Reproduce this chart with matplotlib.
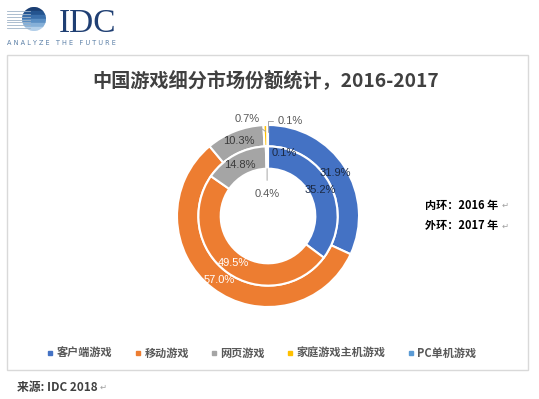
import matplotlib.pyplot as plt
import numpy as np
from matplotlib.patches import Rectangle, Circle
from matplotlib.lines import Line2D

plt.rcParams['font.family'] = ['Noto Sans CJK SC', 'DejaVu Sans']

categories = ['客户端游戏', '移动游戏', '网页游戏', '家庭游戏主机游戏', 'PC单机游戏']
share_2016 = [35.2, 49.5, 14.8, 0.4, 0.1]   # inner ring
share_2017 = [31.9, 57.0, 10.3, 0.7, 0.1]   # outer ring
colors = ['#4472C4', '#ED7D31', '#A5A5A5', '#FFC000', '#5B9BD5']
label_colors = ['#1c2a44', 'white', '#3a3a3a', '#595959', '#1c2a44']

W, H = 539, 399
fig = plt.figure(figsize=(W / 100, H / 100), dpi=100)
fig.patch.set_facecolor('white')

# background axes in pixel coords (y down)
bg = fig.add_axes([0, 0, 1, 1])
bg.set_xlim(0, W)
bg.set_ylim(H, 0)
bg.axis('off')

# --- IDC logo ---
gx, gy, gr = 34, 19, 12
bands = ['#1b3f73', '#24548f', '#3a6fab', '#5b8fc4', '#86b0d8', '#b3cfe9']
circ = Circle((gx, gy), gr, transform=bg.transData, facecolor='none', edgecolor='none')
bg.add_patch(circ)
for i, c in enumerate(bands):
    y0 = gy - gr + i * 2 * gr / len(bands)
    band = Rectangle((gx - gr, y0), 2 * gr, 2 * gr / len(bands) - 0.9, color=c)
    bg.add_patch(band)
    band.set_clip_path(circ)
for yy in np.linspace(gy - 8, gy + 9, 7):
    bg.plot([7, gx - 4], [yy, yy], color='#9fb3c8', lw=0.6)
bg.text(59, 32, 'IDC', family='Liberation Serif', fontsize=24, color='#1f3f73',
        ha='left', va='baseline')
bg.text(7, 43, 'A N A L Y Z E   T H E   F U T U R E', fontsize=4.7, color='#5a7fa6',
        ha='left', va='center', family='DejaVu Sans')

# --- frame ---
bg.add_patch(Rectangle((7, 55), 521, 315, facecolor='none', edgecolor='#d9d9d9', lw=1))

bg.text(266, 80, '中国游戏细分市场份额统计，2016-2017', fontsize=13.8, fontweight='bold',
        color='#404040', ha='center', va='center')

bg.text(425, 205, '内环：2016 年', fontsize=8, fontweight='bold', color='black',
        ha='left', va='center')
bg.text(425, 226, '外环：2017 年', fontsize=8, fontweight='bold', color='black',
        ha='left', va='center')
for yy in (205, 226):
    bg.text(502, yy, '↵', fontsize=6, color='#a0a0a0', ha='left', va='center',
            family='DejaVu Sans')

bg.text(17, 387, '来源: IDC 2018', fontsize=8.5, fontweight='bold', color='#404040',
        ha='left', va='center')
bg.text(100, 387, '↵', fontsize=6, color='#a0a0a0', ha='left', va='center',
        family='DejaVu Sans')

# --- donut ---
cx, cy, R = 268, 216, 91
half = 150
ax = fig.add_axes([(cx - half) / W, (H - cy - half) / H, 2 * half / W, 2 * half / H])
ax.axis('off')

w_out, r_in, w_in = 0.235, 0.765, 0.245
ax.pie(share_2017, radius=1.0, colors=colors, startangle=90, counterclock=False,
       wedgeprops=dict(width=w_out, edgecolor='white', linewidth=1.5))
ax.pie(share_2016, radius=r_in, colors=colors, startangle=90, counterclock=False,
       wedgeprops=dict(width=w_in, edgecolor='white', linewidth=1.5))
ax.set_xlim(-half / R, half / R)
ax.set_ylim(-half / R, half / R)


def mid_angles(vals):
    cum = np.cumsum([0] + list(vals))
    mids = (cum[:-1] + cum[1:]) / 2 / cum[-1]
    return np.deg2rad(90 - mids * 360)


lbl_kw = dict(fontsize=8, ha='center', va='center', family='Liberation Sans')

# outer ring labels
ang = mid_angles(share_2017)
r_mid = 1.0 - w_out / 2
for i in range(3):
    ax.text(r_mid * np.cos(ang[i]), r_mid * np.sin(ang[i]), f'{share_2017[i]:.1f}%',
            color=label_colors[i], **lbl_kw)
a = ang[3]
ax.annotate(f'{share_2017[3]:.1f}%', xy=(0.93 * np.cos(a), 0.93 * np.sin(a)),
            xytext=(-13, 9), textcoords='offset points', color='#595959',
            arrowprops=dict(arrowstyle='-', color='#a6a6a6', lw=0.7, shrinkA=2, shrinkB=0),
            **lbl_kw)
a = ang[4]
ax.annotate(f'{share_2017[4]:.1f}%', xy=(0.92 * np.cos(a), 0.92 * np.sin(a)),
            xytext=(16, 8), textcoords='offset points', color='#595959',
            arrowprops=dict(arrowstyle='-', color='#a6a6a6', lw=0.7, shrinkA=1, shrinkB=0,
                            connectionstyle='angle,angleA=0,angleB=90,rad=0'),
            **lbl_kw)

# inner ring labels
ang = mid_angles(share_2016)
r_mid = r_in - w_in / 2
for i in range(3):
    ax.text(r_mid * np.cos(ang[i]), r_mid * np.sin(ang[i]), f'{share_2016[i]:.1f}%',
            color=label_colors[i], **lbl_kw)
a = ang[3]
r_hole = r_in - w_in
ax.annotate(f'{share_2016[3]:.1f}%', xy=(r_hole * np.cos(a), r_hole * np.sin(a)),
            xytext=(0, -18), textcoords='offset points', color='#595959',
            arrowprops=dict(arrowstyle='-', color='#a6a6a6', lw=0.7, shrinkA=4, shrinkB=0),
            **lbl_kw)
a = ang[4]
ax.annotate(f'{share_2016[4]:.1f}%', xy=(r_mid * np.cos(a), r_mid * np.sin(a)),
            xytext=(12, 3), textcoords='offset points', color=label_colors[4], **lbl_kw)

# --- legend ---
handles = [Line2D([], [], marker='s', linestyle='none', markersize=3.5,
                  markerfacecolor=c, markeredgecolor=c) for c in colors]
leg = fig.legend(handles, categories, loc='center', bbox_to_anchor=(262 / W, 1 - 353 / H),
                 ncol=5, frameon=False, handlelength=0.5, handletextpad=0.35,
                 columnspacing=2.0, prop=dict(size=8, weight='bold'))
for t in leg.get_texts():
    t.set_color('#595959')

fig.savefig('out.png', dpi=100, facecolor='white')
